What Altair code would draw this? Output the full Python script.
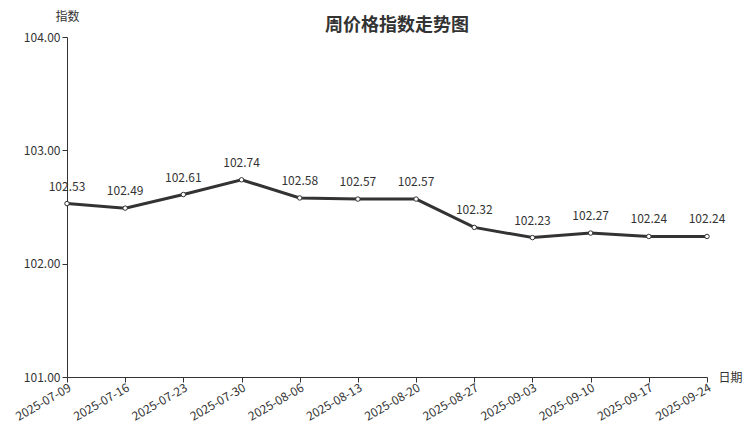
import altair as alt
import pandas as pd

dates = ["2025-07-09", "2025-07-16", "2025-07-23", "2025-07-30", "2025-08-06", "2025-08-13",
         "2025-08-20", "2025-08-27", "2025-09-03", "2025-09-10", "2025-09-17", "2025-09-24"]
values = [102.53, 102.49, 102.61, 102.74, 102.58, 102.57, 102.57, 102.32, 102.23, 102.27, 102.24, 102.24]
title_text = "周价格指数走势图"

df = pd.DataFrame({"date": dates, "value": values})
df["label"] = [f"{v:.2f}" for v in values]

FONT = "Noto Sans CJK SC"
C = "#333333"

x = alt.X("date:O", sort=dates,
          scale=alt.Scale(type="point", padding=0),
          axis=alt.Axis(title="日期", labelAngle=-30, labelAlign="right", labelBaseline="top",
                        titleAngle=0, titleX=651, titleY=0, titleAlign="left", titleBaseline="middle",
                        titleFontWeight="normal", titleFontSize=12, titleColor=C,
                        labelFontSize=12, labelColor=C, domainColor=C, tickColor=C,
                        tickSize=5, labelPadding=0, grid=False))
y = alt.Y("value:Q", scale=alt.Scale(domain=[101, 104], nice=False, zero=False),
          axis=alt.Axis(title="指数", format=".2f", values=[101, 102, 103, 104],
                        titleAngle=0, titleX=0, titleY=-21, titleAlign="center", titleBaseline="middle",
                        titleFontWeight="normal", titleFontSize=12, titleColor=C,
                        labelFontSize=12, labelColor=C, domainColor=C, tickColor=C,
                        tickSize=5, labelPadding=2, grid=False))

base = alt.Chart(df).encode(x=x, y=y)
line = base.mark_line(color=C, strokeWidth=3)
pts = base.mark_point(filled=True, fill="white", stroke=C, strokeWidth=1, size=20, opacity=1)
txt = base.mark_text(dy=-17, fontSize=12, color=C, font=FONT).encode(text="label:N")
ttl = alt.Chart(pd.DataFrame({"t": [title_text]})).mark_text(
    fontSize=18, fontWeight="bold", color=C, font=FONT, baseline="middle", align="center"
).encode(x=alt.value(330), y=alt.value(-11), text="t:N")

chart = (line + pts + txt + ttl).properties(
    width=640, height=340,
    autosize=alt.AutoSizeParams(type="none"),
    padding={"left": 59, "top": 29, "right": 37, "bottom": 50},
).configure(font=FONT).configure_view(stroke=None)

chart.save("out.html", embed_options={"renderer": "svg", "actions": False})
